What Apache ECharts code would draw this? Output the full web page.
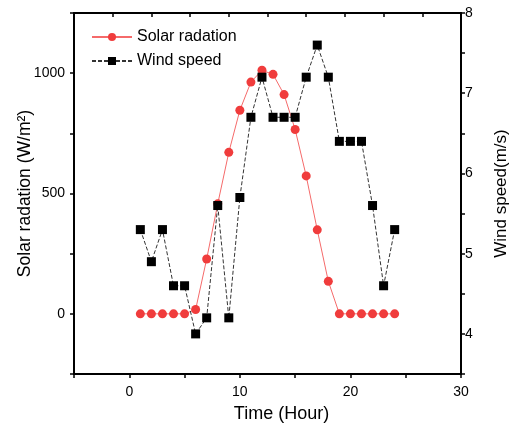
<!DOCTYPE html>
<html>
<head>
<meta charset="utf-8">
<script src="https://cdn.jsdelivr.net/npm/echarts@6/dist/echarts.min.js"></script>
<style>
  html, body { margin: 0; padding: 0; background: #fff; }
  #chart { width: 510px; height: 432px; }
</style>
</head>
<body>
<div id="chart"></div>
<script>
  const hours = [1, 2, 3, 4, 5, 6, 7, 8, 9, 10, 11, 12, 13, 14, 15, 16, 17, 18, 19, 20, 21, 22, 23, 24];
  const solar = [0, 0, 0, 0, 0, 18, 228, 457, 671, 846, 963, 1012, 995, 911, 766, 573, 349, 135, 0, 0, 0, 0, 0, 0];
  const wind = [5.3, 4.9, 5.3, 4.6, 4.6, 4.0, 4.2, 5.6, 4.2, 5.7, 6.7, 7.2, 6.7, 6.7, 6.7, 7.2, 7.6, 7.2, 6.4, 6.4, 6.4, 5.6, 4.6, 5.3];

  const font = 'Liberation Sans, Arial, sans-serif';
  const axisLine = { show: true, onZero: false, lineStyle: { color: '#000', width: 2 } };
  const tick = { show: true, length: 4, lineStyle: { color: '#000', width: 1.5 } };

  const chart = echarts.init(document.getElementById('chart'));
  chart.setOption({
    animation: false,
    grid: { left: 74, right: 49, top: 13, bottom: 58, containLabel: false, outerBoundsMode: 'none' },
    legend: {
      left: 86, top: 24, orient: 'vertical', itemGap: 8,
      itemWidth: 40, itemHeight: 10,
      textStyle: { fontFamily: font, fontSize: 16, color: '#000' },
      data: ['Solar radation', 'Wind speed']
    },
    xAxis: [{
      type: 'value', min: -5, max: 30, interval: 5,
      name: 'Time (Hour)', nameLocation: 'middle', nameGap: 31, nameMoveOverlap: false,
      nameTextStyle: { fontFamily: font, fontSize: 18, color: '#000', padding: [0, 0, 0, 28] },
      axisLine: axisLine, axisTick: tick, splitLine: { show: false },
      axisLabel: { fontFamily: font, fontSize: 14, color: '#000', margin: 11,
        formatter: v => (v % 10 === 0 && v >= 0 ? v : '') }
    }, {
      type: 'value', position: 'top', min: 0, max: 10, interval: 1,
      axisLine: axisLine, axisTick: { show: true, inside: true, length: 4, lineStyle: { color: '#000', width: 1.5 } },
      axisLabel: { show: false }, splitLine: { show: false }
    }],
    yAxis: [{
      type: 'value', min: -250, max: 1250, interval: 250,
      name: 'Solar radation (W/m²)', nameLocation: 'middle', nameGap: 40, nameMoveOverlap: false,
      nameTextStyle: { fontFamily: font, fontSize: 17.5, color: '#000' },
      axisLine: axisLine, axisTick: tick, splitLine: { show: false },
      axisLabel: { fontFamily: font, fontSize: 14, color: '#000', margin: 9,
        formatter: v => (v % 500 === 0 && v >= 0 && v <= 1000 ? v : '') }
    }, {
      type: 'value', min: 3.5, max: 8, interval: 0.5, position: 'right',
      name: 'Wind speed(m/s)', nameLocation: 'middle', nameGap: 32, nameMoveOverlap: false,
      nameTextStyle: { fontFamily: font, fontSize: 17, color: '#000' },
      axisLine: axisLine, axisTick: tick, splitLine: { show: false },
      axisLabel: { fontFamily: font, fontSize: 14, color: '#000', margin: 4,
        formatter: v => (v % 1 === 0 ? v : '') }
    }],
    series: [{
      name: 'Solar radation', type: 'line', xAxisIndex: 0, yAxisIndex: 0,
      data: hours.map((h, i) => [h, solar[i]]),
      symbol: 'circle', symbolSize: 9,
      itemStyle: { color: '#f03c3c' },
      lineStyle: { color: '#f56a6a', width: 1 }
    }, {
      name: 'Wind speed', type: 'line', xAxisIndex: 0, yAxisIndex: 1,
      data: hours.map((h, i) => [h, wind[i]]),
      symbol: 'rect', symbolSize: 9,
      itemStyle: { color: '#000' },
      lineStyle: { color: '#333', width: 1, type: [4, 2] }
    }]
  });
</script>
</body>
</html>
